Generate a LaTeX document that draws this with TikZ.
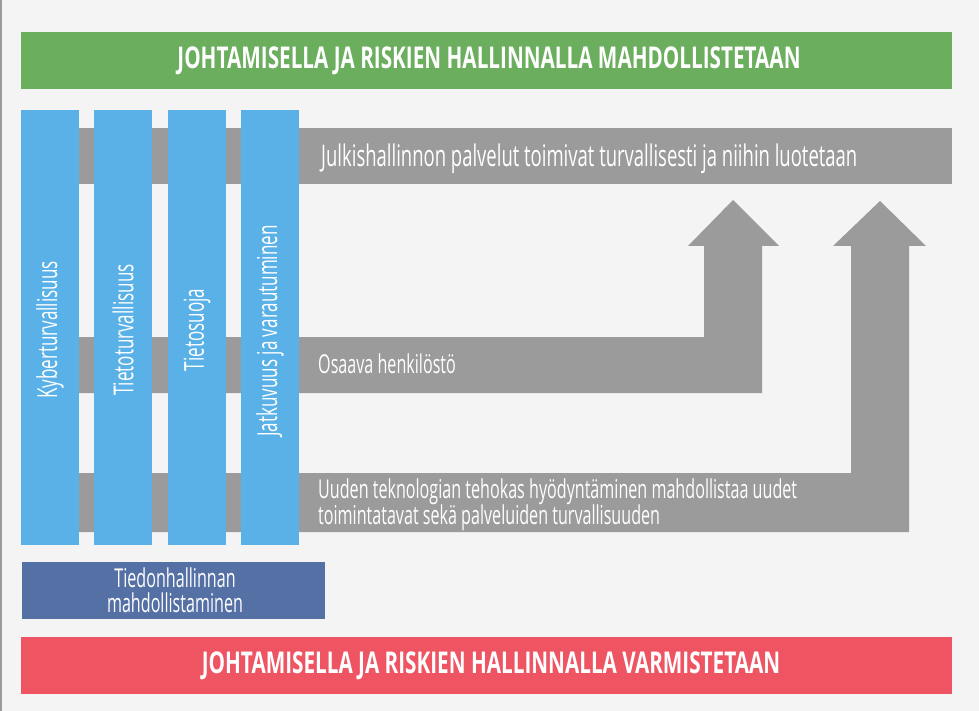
\documentclass[tikz,border=0pt]{standalone}
\usepackage{fontspec}
\setmainfont[FakeStretch=0.62]{Open Sans}
\newfontfamily\headfont[FakeStretch=0.69]{Open Sans}
\definecolor{paper}{HTML}{F4F4F4}
\definecolor{topgreen}{HTML}{6BAE5E}
\definecolor{pillarblue}{HTML}{5AB1E8}
\definecolor{bandgray}{HTML}{9B9B9B}
\definecolor{basisblue}{HTML}{5470A4}
\definecolor{bottomred}{HTML}{EF5463}
\begin{document}
\begin{tikzpicture}[x=1pt,y=-1pt,
		pillar/.style={fill=pillarblue},
		band/.style={fill=bandgray},
		headline/.style={text=white,font=\headfont\fontsize{30}{30}\selectfont\bfseries,inner sep=0pt},
		bandtext/.style={text=white,font=\fontsize{26}{26}\selectfont,inner sep=0pt,anchor=base west},
		pillartext/.style={text=white,font=\fontsize{27.5}{27.5}\selectfont,inner sep=0pt,rotate=90}]
	\useasboundingbox[fill=paper] (0,0) rectangle (979,711);
	\draw[bandgray,line width=1.5pt] (0.75,0)--(0.75,711);
	\fill[topgreen] (21,32) rectangle (952,89);
	\node[headline] (top) at (489,61) {JOHTAMISELLA JA RISKIEN HALLINNALLA MAHDOLLISTETAAN};
	\fill[band] (21,128) rectangle (952,184);
	\fill[band] (21,337)--(704,337)--(704,246)--(688,246)--(733,200)--(779,246)--(762,246)--(762,393)--(21,393)--cycle;
	\fill[band] (21,473)--(851,473)--(851,246)--(833,246)--(880,201)--(926,246)--(909,246)--(909,532)--(21,532)--cycle;
	\foreach \x in {21,94,168,241}
		\fill[pillar] (\x,110) rectangle ++(58,435);
	\node[pillartext] (kyber) at (50,330) {Kyberturvallisuus};
	\node[pillartext] (tieto) at (123,330) {Tietoturvallisuus};
	\node[pillartext] (suoja) at (197,330) {Tietosuoja};
	\node[pillartext] (jatkuvuus) at (270,331) {Jatkuvuus ja varautuminen};
	\node[bandtext,font=\fontsize{29.8}{29.8}\selectfont] (julki) at (321,167) {Julkishallinnon palvelut toimivat turvallisesti ja niihin luotetaan};
	\node[bandtext] (osaava) at (318,373) {Osaava henkilöstö};
	\node[bandtext] (uusi1) at (318,498) {Uuden teknologian tehokas hyödyntäminen mahdollistaa uudet};
	\node[bandtext] (uusi2) at (318,524) {toimintatavat sekä palveluiden turvallisuuden};
	\fill[basisblue] (22,562) rectangle (325,619);
	\node[bandtext,anchor=base] (tiedon1) at (175,587) {Tiedonhallinnan};
	\node[bandtext,anchor=base] (tiedon2) at (175,612) {mahdollistaminen};
	\fill[bottomred] (21,637) rectangle (952,694);
	\node[headline] (bottom) at (491,666) {JOHTAMISELLA JA RISKIEN HALLINNALLA VARMISTETAAN};
\end{tikzpicture}
\end{document}
